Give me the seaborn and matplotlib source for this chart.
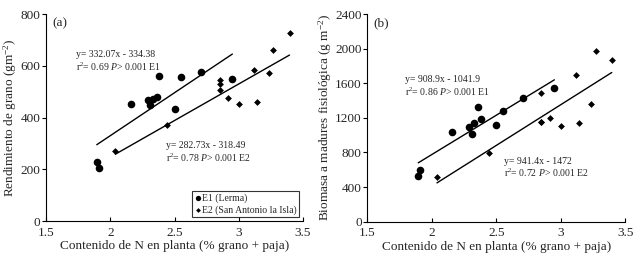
import matplotlib
matplotlib.use("Agg")
import matplotlib.pyplot as plt
import seaborn as sns
import numpy as np
import pandas as pd

# ---- data ----
e1_n = [1.895, 1.91, 2.16, 2.29, 2.31, 2.33, 2.36, 2.38, 2.50, 2.55, 2.705, 2.95]
e2_n = [2.04, 2.445, 2.85, 2.85, 2.85, 2.92, 3.00, 3.12, 3.14, 3.235, 3.27, 3.395]
e1_grain = [227, 204, 452, 467, 448, 470, 480, 560, 431, 555, 577, 549]
e2_grain = [270, 371, 545, 529, 506, 474, 452, 583, 461, 571, 661, 728]
e1_biomass = [532, 597, 1040, 1098, 1009, 1136, 1321, 1190, 1121, 1283, 1429, 1541]
e2_biomass = [520, 797, 1483, 1156, 1150, 1202, 1105, 1695, 1144, 1360, 1976, 1868]

# regression coefficients (slope, intercept) as printed
fit_a_e1 = (332.07, -334.38)
fit_a_e2 = (282.73, -318.49)
fit_b_e1 = (908.9, -1041.9)
fit_b_e2 = (941.4, -1472.0)

x_ticks = [1.5, 2, 2.5, 3, 3.5]
x_tick_labels = ["1.5", "2", "2.5", "3", "3.5"]
ya_ticks = [0, 200, 400, 600, 800]
yb_ticks = [0, 400, 800, 1200, 1600, 2000, 2400]

series_labels = ["E1 (Lerma)", "E2 (San Antonio la Isla)"]

sns.set_theme(style="ticks")
plt.rcParams["font.family"] = ["Liberation Serif", "DejaVu Serif"]
plt.rcParams["mathtext.fontset"] = "custom"
plt.rcParams["mathtext.rm"] = "Liberation Serif"
plt.rcParams["mathtext.it"] = "Liberation Serif:italic"

fig = plt.figure(figsize=(6.42, 2.56), dpi=100)
ax_a = fig.add_axes([0.0717, 0.1367, 0.4003, 0.8086])
ax_b = fig.add_axes([0.5721, 0.1340, 0.4019, 0.8113])


def panel(ax, y1, y2, f1, f2, ylim, yticks, ylabel, tag, legend):
    d1 = pd.DataFrame({"x": e1_n, "y": y1})
    d2 = pd.DataFrame({"x": e2_n, "y": y2})
    sns.scatterplot(data=d1, x="x", y="y", ax=ax, marker="o", s=30,
                    color="black", edgecolor="black", linewidth=0,
                    label=series_labels[0], zorder=3)
    sns.scatterplot(data=d2, x="x", y="y", ax=ax, marker="D", s=12,
                    color="black", edgecolor="black", linewidth=0,
                    label=series_labels[1], zorder=3)
    for xs, f in ((e1_n, f1), (e2_n, f2)):
        xr = np.array([min(xs), max(xs)])
        ax.plot(xr, f[0] * xr + f[1], color="black", lw=1.0, zorder=2)
    ax.set_xlim(1.5, 3.5)
    ax.set_ylim(*ylim)
    ax.set_xticks(x_ticks)
    ax.set_xticklabels(x_tick_labels)
    ax.set_yticks(yticks)
    ax.set_xlabel("Contenido de N en planta (% grano + paja)", fontsize=9.5, labelpad=1)
    ax.set_ylabel(ylabel, fontsize=9.5, labelpad=1)
    ax.tick_params(axis="x", direction="in", length=3, width=0.8, labelsize=9.5, pad=4, color="black")
    ax.tick_params(axis="y", direction="out", length=3, width=0.8, labelsize=9.5, pad=1, color="black")
    for s in ("top", "right"):
        ax.spines[s].set_visible(False)
    for s in ("left", "bottom"):
        ax.spines[s].set_color("black")
        ax.spines[s].set_linewidth(0.8)
    ax.text(0.025, 0.985, tag, transform=ax.transAxes, fontsize=9.5, va="top", ha="left")
    if legend:
        leg = ax.legend(loc="lower right", fontsize=7, frameon=True, fancybox=False,
                        edgecolor="black", borderpad=0.25, handletextpad=0.1,
                        handlelength=0.7, labelspacing=0.2, borderaxespad=0.4,
                        markerscale=0.7)
        leg.get_frame().set_linewidth(0.8)
    else:
        lg = ax.get_legend()
        if lg is not None:
            lg.remove()


panel(ax_a, e1_grain, e2_grain, fit_a_e1, fit_a_e2, (0, 800), ya_ticks,
      "Rendimiento de grano (gm$^{-2}$)", "(a)", True)
panel(ax_b, e1_biomass, e2_biomass, fit_b_e1, fit_b_e2, (0, 2400), yb_ticks,
      "Biomasa a madures fisiológica (g m$^{-2}$)", "(b)", False)

fs = 7
# annotations panel a
ax_a.text(1.73, 645, "y= 332.07x - 334.38", fontsize=fs, va="center")
ax_a.text(1.73, 595, "r$^{2}$= 0.69 $P$> 0.001 E1", fontsize=fs, va="center")
ax_a.text(2.43, 290, "y= 282.73x - 318.49", fontsize=fs, va="center")
ax_a.text(2.43, 245, "r$^{2}$= 0.78 $P$> 0.001 E2", fontsize=fs, va="center")
# annotations panel b
ax_b.text(1.79, 1645, "y= 908.9x - 1041.9", fontsize=fs, va="center")
ax_b.text(1.79, 1505, "r$^{2}$= 0.86 $P$> 0.001 E1", fontsize=fs, va="center")
ax_b.text(2.56, 700, "y= 941.4x - 1472", fontsize=fs, va="center")
ax_b.text(2.56, 560, "r$^{2}$= 0.72 $P$> 0.001 E2", fontsize=fs, va="center")

fig.savefig("out.png", dpi=100)
